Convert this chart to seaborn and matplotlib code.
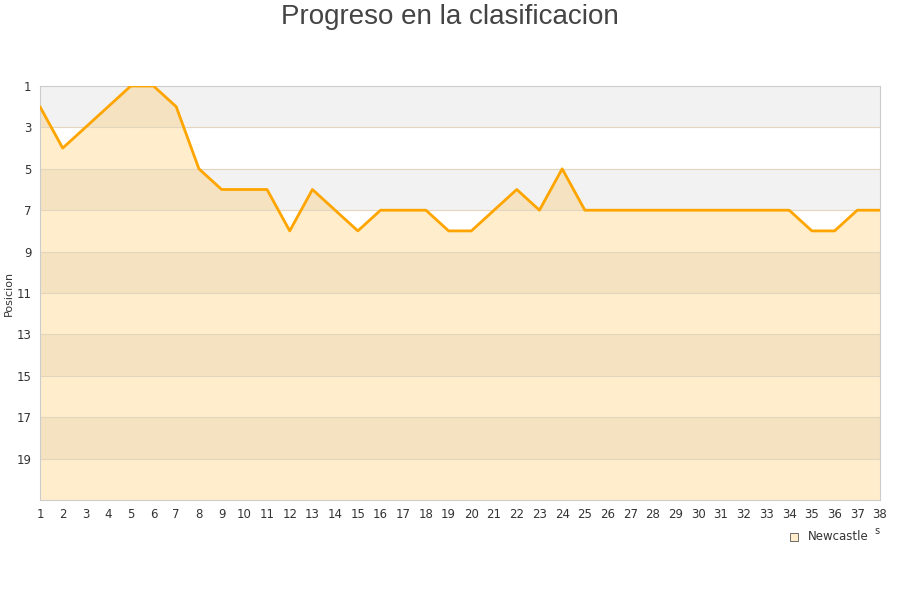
import numpy as np
import pandas as pd
import matplotlib
matplotlib.use("Agg")
import matplotlib.pyplot as plt
import seaborn as sns

# Round-by-round league position
jornadas = list(range(1, 39))
posiciones = [2, 4, 3, 2, 1, 1, 2, 5, 6, 6,
              6, 8, 6, 7, 8, 7, 7, 7, 8, 8,
              7, 6, 7, 5, 7, 7, 7, 7, 7, 7,
              7, 7, 7, 7, 8, 8, 7, 7]
equipo = "Newcastle"
y_ticks = [1, 3, 5, 7, 9, 11, 13, 15, 17, 19]

df = pd.DataFrame({"Jornada": jornadas, "Posicion": posiciones})

sns.set_style("white")
plt.rcParams["font.family"] = ["DejaVu Sans"]

fig = plt.figure(figsize=(9, 6), dpi=100)
ax = fig.add_axes([40 / 900, 100 / 600, 840 / 900, 414 / 600])

# alternating background bands
for i, y0 in enumerate(range(1, 21, 2)):
    color = "#f2f2f2" if i % 2 == 0 else "#ffffff"
    ax.axhspan(y0, y0 + 2, color=color, zorder=0, lw=0)

ax.fill_between(df["Jornada"], df["Posicion"], 21, color="#ffa500", alpha=0.2,
                lw=0, zorder=1)
sns.lineplot(data=df, x="Jornada", y="Posicion", color="#ffa500", lw=2,
             ax=ax, zorder=3)

for y in y_ticks[1:]:
    ax.axhline(y, color="#e3d6bf", lw=0.8, zorder=2)

ax.set_xlim(1, 38)
ax.set_ylim(21, 1)
ax.set_xticks(jornadas)
ax.set_yticks(y_ticks)
ax.tick_params(axis="both", labelsize=8.5, colors="#333333", length=0, pad=6)
ax.set_xlabel("")
ax.set_ylabel("Posicion", fontsize=8, color="#333333")
ax.yaxis.set_label_coords(-26 / 840, 0.5)

for s in ax.spines.values():
    s.set_color("#cccccc")
    s.set_linewidth(0.8)

fig.text(0.5, 1 - 17 / 600, "Progreso en la clasificacion", ha="center",
         va="center", fontsize=20, color="#444444",
         family=["Liberation Sans", "DejaVu Sans"])

# legend
fig.patches.append(plt.Rectangle((790 / 900, 1 - 541 / 600), 8 / 900, 8 / 600,
                                 transform=fig.transFigure, facecolor="#ffedcc",
                                 edgecolor="#555555", lw=0.6))
fig.text(808 / 900, 1 - 537 / 600, equipo, ha="left", va="center",
         fontsize=8.5, color="#333333")
fig.text(874 / 900, 1 - 531 / 600, "s", ha="left", va="center",
         fontsize=7, color="#333333")

fig.savefig("out.png", dpi=100)
